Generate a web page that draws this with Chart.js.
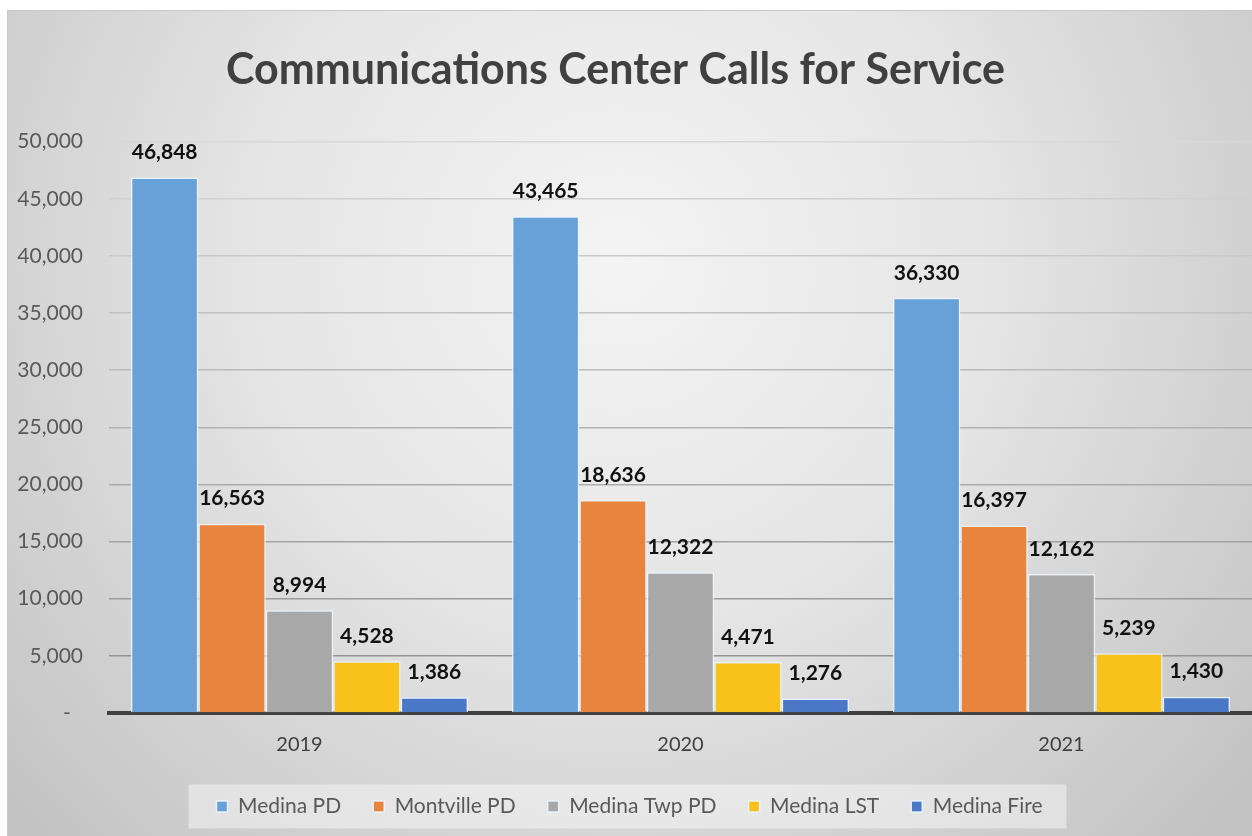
<!DOCTYPE html>
<html>
<head>
<meta charset="utf-8">
<title>Communications Center Calls for Service</title>
<script src="https://cdn.jsdelivr.net/npm/chart.js@4.4.1/dist/chart.umd.min.js"></script>
<style>
  html, body { margin: 0; padding: 0; background: #fff; }
  #box { width: 1252px; height: 836px; }
</style>
</head>
<body>
<div id="box"><canvas id="myChart" width="1252" height="836"></canvas></div>
<script>
// data
const years = ['2019', '2020', '2021'];
const seriesNames = ['Medina PD', 'Montville PD', 'Medina Twp PD', 'Medina LST', 'Medina Fire'];
const medinaPD = [46848, 43465, 36330];
const montvillePD = [16563, 18636, 16397];
const medinaTwpPD = [8994, 12322, 12162];
const medinaLST = [4528, 4471, 5239];
const medinaFire = [1386, 1276, 1430];
const yTicks = [0, 5000, 10000, 15000, 20000, 25000, 30000, 35000, 40000, 45000, 50000];

const seriesValues = [medinaPD, montvillePD, medinaTwpPD, medinaLST, medinaFire];
const seriesColors = ['#67a1d7', '#e9843f', '#a8a8a8', '#f9c11c', '#4a78c6'];
const FONT = 'Lato, "Open Sans", sans-serif';

const fmt = v => v.toLocaleString('en-US');

// grey panel with soft radial shading + lighter legend box
const panelBg = {
  id: 'panelBg',
  afterLayout(chart) {
    // title sits a little left of centre in the original
    const t = chart.titleBlock;
    if (t) { t.left -= 14; t.right -= 14; }
  },
  beforeDraw(chart) {
    const ctx = chart.ctx;
    const w = chart.width, h = chart.height;
    ctx.save();
    ctx.fillStyle = '#fff';
    ctx.fillRect(0, 0, w, h);
    const g = ctx.createRadialGradient(620, 260, 0, 620, 260, 820);
    g.addColorStop(0, '#f4f4f4');
    g.addColorStop(0.45, '#e5e5e5');
    g.addColorStop(1, '#c3c3c3');
    ctx.fillStyle = g;
    ctx.fillRect(7, 10, w - 7, h - 10);
    ctx.strokeStyle = '#c8c8c8';
    ctx.lineWidth = 1;
    ctx.beginPath();
    ctx.moveTo(7.5, h);
    ctx.lineTo(7.5, 10.5);
    ctx.lineTo(w, 10.5);
    ctx.stroke();

    const lg = chart.legend;
    if (lg && lg.legendHitBoxes && lg.legendHitBoxes.length) {
      const hb = lg.legendHitBoxes;
      const x0 = hb[0].left - 28;
      const x1 = hb[hb.length - 1].left + hb[hb.length - 1].width + 24;
      const cy = hb[0].top + hb[0].height / 2;
      ctx.fillStyle = 'rgba(255,255,255,0.42)';
      ctx.fillRect(x0, cy - 22, x1 - x0, 44);
    }
    ctx.restore();
  }
};

// value labels above each bar
const barLabels = {
  id: 'barLabels',
  afterDatasetsDraw(chart) {
    const ctx = chart.ctx;
    ctx.save();
    ctx.font = 'bold 21px ' + FONT;
    ctx.fillStyle = '#111';
    ctx.textAlign = 'center';
    ctx.textBaseline = 'middle';
    chart.data.datasets.forEach((ds, i) => {
      chart.getDatasetMeta(i).data.forEach((bar, j) => {
        ctx.fillText(fmt(ds.data[j]), bar.x, bar.y - 25);
      });
    });
    ctx.restore();
  }
};

// gridlines look darker lower down in the original
const gridColor = (c) => {
  const v = c.tick ? c.tick.value : 0;
  const t = Math.min(1, Math.max(0, (v - 5000) / 45000));
  const shade = Math.round(148 + t * 68);
  return `rgb(${shade},${shade},${shade})`;
};

const ctx = document.getElementById('myChart').getContext('2d');
const chart = new Chart(ctx, {
  type: 'bar',
  data: {
    labels: years,
    datasets: seriesNames.map((name, i) => ({
      label: name,
      data: seriesValues[i],
      backgroundColor: seriesColors[i],
      borderColor: 'rgba(235,245,255,0.9)',
      borderWidth: 1.5,
      barPercentage: 1,
      categoryPercentage: 0.885
    }))
  },
  options: {
    responsive: false,
    animation: false,
    layout: { padding: { left: 7, right: 0, top: 10, bottom: 9 } },
    plugins: {
      title: {
        display: true,
        text: 'Communications Center Calls for Service',
        color: '#404040',
        font: { family: FONT, size: 43, weight: 'bold' },
        padding: { top: 34, bottom: 46 }
      },
      legend: {
        display: true,
        position: 'bottom',
        labels: {
          color: '#595959',
          font: { family: FONT, size: 21 },
          boxWidth: 11,
          boxHeight: 11,
          padding: 32
        }
      },
      tooltip: { enabled: false }
    },
    scales: {
      x: {
        grid: { display: false },
        border: { display: true, color: '#404040', width: 4 },
        ticks: { color: '#404040', font: { family: FONT, size: 20 }, padding: 12 },
        afterFit: (scale) => { scale.height = 51; }
      },
      y: {
        min: 0,
        max: 50000,
        afterBuildTicks: (scale) => { scale.ticks = yTicks.map(v => ({ value: v })); },
        grid: { color: gridColor, lineWidth: 1.5, drawTicks: false },
        border: { display: false },
        ticks: {
          color: '#595959',
          font: { family: FONT, size: 21 },
          padding: 26,
          callback: (v) => v === 0 ? '-\u2007' : fmt(v)
        },
        afterFit: (scale) => { scale.width = 102; }
      }
    }
  },
  plugins: [panelBg, barLabels]
});
</script>
</body>
</html>
